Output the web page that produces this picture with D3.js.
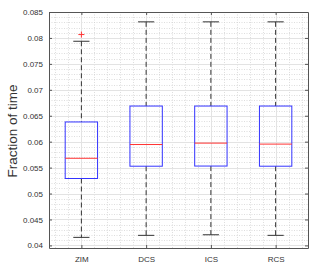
<!DOCTYPE html>
<html>
<head>
<meta charset="utf-8">
<script src="https://cdn.jsdelivr.net/npm/d3@7"></script>
<style>
  body { margin: 0; background: #fff; }
  svg { font-family: "Liberation Sans", Arial, sans-serif; }
</style>
</head>
<body>
<svg id="chart" width="322" height="272"></svg>
<script>
// box statistics
var categories = ['ZIM', 'DCS', 'ICS', 'RCS'];
var lowerWhisker = [0.04155, 0.04194, 0.04205, 0.04194];
var q1 = [0.0529, 0.05527, 0.0553, 0.05527];
var median = [0.0568, 0.05945, 0.05972, 0.05953];
var q3 = [0.0638, 0.06687, 0.06687, 0.06687];
var upperWhisker = [0.07936, 0.0831, 0.0831, 0.0831];
var outliers = [[0.08065], [], [], []];
var yTicks = [0.04, 0.045, 0.05, 0.055, 0.06, 0.065, 0.07, 0.075, 0.08, 0.085];

var boxes = categories.map(function (c, i) {
  return { name: c, i: i + 1, lo: lowerWhisker[i], q1: q1[i], med: median[i], q3: q3[i], hi: upperWhisker[i], out: outliers[i] };
});

// plot area (don't use "top" as a global name, it's window.top)
var pLeft = 49, pRight = 308, pTop = 12, pBottom = 248;
var svg = d3.select('#chart');

var x = d3.scaleLinear().domain([0.5, 4.5]).range([pLeft, pRight]);
var y = d3.scaleLinear().domain([0.0395, 0.085]).range([pBottom, pTop]);

// grids: minor dotted, major light solid
var minorY = d3.range(40, 86).map(d => d / 1000);
var minorX = d3.range(3, 23).map(d => d / 5);
var grid = svg.append('g');
grid.selectAll('.my').data(minorY).enter().append('line')
  .attr('x1', pLeft).attr('x2', pRight)
  .attr('y1', d => Math.round(y(d)) + 0.5).attr('y2', d => Math.round(y(d)) + 0.5)
  .attr('stroke', '#d0d0d0').attr('stroke-width', 0.7).attr('stroke-dasharray', '1,1.5');
grid.selectAll('.mx').data(minorX).enter().append('line')
  .attr('y1', pTop).attr('y2', pBottom)
  .attr('x1', d => Math.round(x(d)) + 0.5).attr('x2', d => Math.round(x(d)) + 0.5)
  .attr('stroke', '#d0d0d0').attr('stroke-width', 0.7).attr('stroke-dasharray', '1,1.5');
grid.selectAll('.gy').data(yTicks).enter().append('line')
  .attr('x1', pLeft).attr('x2', pRight)
  .attr('y1', d => Math.round(y(d)) + 0.5).attr('y2', d => Math.round(y(d)) + 0.5)
  .attr('stroke', '#e3e3e3').attr('stroke-width', 1);
grid.selectAll('.gx').data(boxes).enter().append('line')
  .attr('y1', pTop).attr('y2', pBottom)
  .attr('x1', d => Math.round(x(d.i)) + 0.5).attr('x2', d => Math.round(x(d.i)) + 0.5)
  .attr('stroke', '#e3e3e3').attr('stroke-width', 1);

// boxes
var bw = 0.5, cw = 0.25;
var g = svg.selectAll('.box').data(boxes).enter().append('g');
g.append('line')
  .attr('x1', d => x(d.i)).attr('x2', d => x(d.i))
  .attr('y1', d => y(d.hi)).attr('y2', d => y(d.q3))
  .attr('stroke', '#333').attr('stroke-dasharray', '5,3');
g.append('line')
  .attr('x1', d => x(d.i)).attr('x2', d => x(d.i))
  .attr('y1', d => y(d.q1)).attr('y2', d => y(d.lo))
  .attr('stroke', '#333').attr('stroke-dasharray', '5,3');
g.append('line')
  .attr('x1', d => x(d.i - cw / 2)).attr('x2', d => x(d.i + cw / 2))
  .attr('y1', d => y(d.hi)).attr('y2', d => y(d.hi))
  .attr('stroke', '#333');
g.append('line')
  .attr('x1', d => x(d.i - cw / 2)).attr('x2', d => x(d.i + cw / 2))
  .attr('y1', d => y(d.lo)).attr('y2', d => y(d.lo))
  .attr('stroke', '#333');
g.append('rect')
  .attr('x', d => x(d.i - bw / 2)).attr('width', d => x(d.i + bw / 2) - x(d.i - bw / 2))
  .attr('y', d => y(d.q3)).attr('height', d => y(d.q1) - y(d.q3))
  .attr('fill', 'none').attr('stroke', '#3333ff').attr('stroke-width', 1);
g.append('line')
  .attr('x1', d => x(d.i - bw / 2)).attr('x2', d => x(d.i + bw / 2))
  .attr('y1', d => y(d.med)).attr('y2', d => y(d.med))
  .attr('stroke', '#ff3333').attr('stroke-width', 1);
g.selectAll('.out').data(d => d.out.map(v => ({ i: d.i, v: v }))).enter().append('path')
  .attr('d', d => 'M' + (x(d.i) - 3) + ',' + y(d.v) + 'h6M' + x(d.i) + ',' + (y(d.v) - 3) + 'v6')
  .attr('stroke', '#ff3333').attr('stroke-width', 1);

// axes (box with inward ticks)
var yAxisL = d3.axisLeft(y).tickValues(yTicks).tickSizeInner(-3).tickSizeOuter(0).tickPadding(6)
  .tickFormat(d3.format('~g'));
var yAxisR = d3.axisRight(y).tickValues(yTicks).tickSizeInner(-3).tickSizeOuter(0).tickFormat('');
var xAxisB = d3.axisBottom(x).tickValues([1, 2, 3, 4]).tickSizeInner(-3).tickSizeOuter(0).tickPadding(8)
  .tickFormat((d, i) => categories[i]);
var xAxisT = d3.axisTop(x).tickValues([1, 2, 3, 4]).tickSizeInner(-3).tickSizeOuter(0).tickFormat('');

function style(sel) {
  sel.selectAll('.domain').attr('stroke', '#555');
  sel.selectAll('.tick line').attr('stroke', '#555');
  sel.selectAll('text').attr('fill', '#333').style('font-size', '8px').style('font-family', '"Liberation Sans", Arial, sans-serif');
}
svg.append('g').attr('transform', 'translate(' + pLeft + ',0)').call(yAxisL).call(style);
svg.append('g').attr('transform', 'translate(' + pRight + ',0)').call(yAxisR).call(style);
svg.append('g').attr('transform', 'translate(0,' + pBottom + ')').call(xAxisB).call(style);
svg.append('g').attr('transform', 'translate(0,' + pTop + ')').call(xAxisT).call(style);

svg.append('text')
  .attr('transform', 'translate(17,' + ((pTop + pBottom) / 2 + 1) + ') rotate(-90)')
  .attr('text-anchor', 'middle')
  .attr('fill', '#333')
  .style('font-size', '13.5px')
  .text('Fraction of time');
</script>
</body>
</html>
